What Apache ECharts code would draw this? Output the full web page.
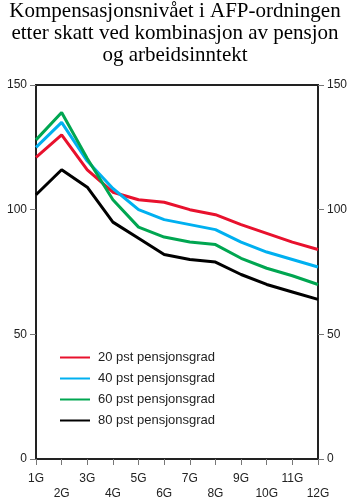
<!DOCTYPE html>
<html><head><meta charset="utf-8">
<script src="https://cdn.jsdelivr.net/npm/echarts@6/dist/echarts.min.js"></script>
<style>html,body{margin:0;padding:0;background:#fff}#c{width:350px;height:498px}</style>
</head><body><div id="c"></div>
<script>
const categories = ['1G','2G','3G','4G','5G','6G','7G','8G','9G','10G','11G','12G'];
const seriesNames = ['20 pst pensjonsgrad','40 pst pensjonsgrad','60 pst pensjonsgrad','80 pst pensjonsgrad'];
const red20 = [121, 130, 116, 107, 104, 103, 100, 98, 94, 90.5, 87, 84];
const blue40 = [125, 135, 119.5, 108.5, 100, 96, 94, 92, 87, 83, 80, 77];
const green60 = [128, 139, 120.5, 104, 93, 89, 87, 86, 80.5, 76.5, 73.5, 70];
const black80 = [106, 116, 109, 95, 88.5, 82, 80, 79, 74, 70, 67, 64];
const yTicks = [0, 50, 100, 150];
const colors = ['#e8112d', '#00b0f0', '#00a651', '#000000'];
const titleText = 'Kompensasjonsnivået i AFP-ordningen\netter skatt ved kombinasjon av pensjon\nog arbeidsinntekt';

const chart = echarts.init(document.getElementById('c'), null, {renderer: 'canvas'});
const sans = 'Liberation Sans, Arial, sans-serif';
const yAxisCommon = {
  type: 'value', min: yTicks[0], max: yTicks[yTicks.length-1], interval: 50,
  axisLine: {show: true, lineStyle: {color: '#222', width: 2}},
  axisTick: {show: true, length: 6, lineStyle: {color: '#777', width: 1}},
  axisLabel: {fontFamily: sans, fontSize: 12, color: '#222', margin: 9},
  splitLine: {show: false}
};
const data = [red20, blue40, green60, black80];
chart.setOption({
  animation: false,
  title: {
    text: titleText, left: 'center', top: 0, padding: [0, 14, 0, 0],
    textStyle: {fontFamily: 'Liberation Serif, Times New Roman, serif', fontSize: 21, fontWeight: 'normal', color: '#000', lineHeight: 22}
  },
  legend: {
    data: seriesNames, orient: 'vertical', left: 60, top: 351,
    icon: 'rect', itemWidth: 30, itemHeight: 2, itemGap: 8, padding: 0,
    textStyle: {fontFamily: sans, fontSize: 13, color: '#222', padding: [0,0,0,3]}
  },
  grid: {left: 36, right: 32, top: 85, bottom: 39, show: true, borderColor: '#222', borderWidth: 2, outerBoundsMode: 'none', containLabel: false},
  xAxis: {
    type: 'category', data: categories, boundaryGap: false,
    axisLine: {show: true, lineStyle: {color: '#222', width: 2}},
    axisTick: {show: true, length: 6, alignWithLabel: true, interval: 0, lineStyle: {color: '#777', width: 1}},
    axisLabel: {
      interval: 0, fontFamily: sans, fontSize: 12, color: '#222', margin: 12, lineHeight: 15,
      formatter: (v, i) => (i % 2 === 0 ? v + '\n ' : ' \n' + v)
    }
  },
  yAxis: [
    Object.assign({position: 'left'}, yAxisCommon),
    Object.assign({position: 'right'}, yAxisCommon)
  ],
  series: seriesNames.map((n, i) => ({
    name: n, type: 'line', data: data[i], symbol: 'none', yAxisIndex: 0,
    lineStyle: {width: 3, color: colors[i]}, itemStyle: {color: colors[i]}
  }))
});
</script></body></html>
